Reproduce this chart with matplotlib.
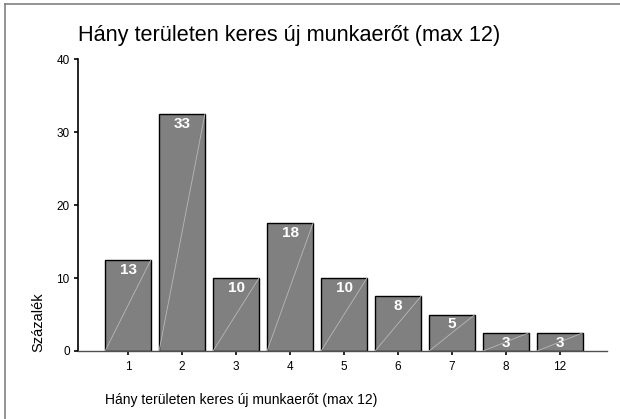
import matplotlib.pyplot as plt
from matplotlib.lines import Line2D

plt.rcParams['font.family'] = ['Liberation Sans', 'DejaVu Sans']

# data
categories = ["1", "2", "3", "4", "5", "6", "7", "8", "12"]
percent = [12.5, 32.5, 10.0, 17.5, 10.0, 7.5, 5.0, 2.5, 2.5]
labels = ["13", "33", "10", "18", "10", "8", "5", "3", "3"]
y_ticks = [0, 10, 20, 30, 40]

title = "Hány területen keres új munkaerőt (max 12)"
x_title = "Hány területen keres új munkaerőt (max 12)"
y_title = "Százalék"

fig = plt.figure(figsize=(6.2, 4.19), dpi=100)
ax = fig.add_axes([78 / 620, 0.1623, (607 - 78) / 620, 0.859 - 0.1623])

pos = list(range(len(categories)))
width = 0.85
ax.bar(pos, percent, width=width, color="#808080", edgecolor="black", linewidth=1.0, zorder=2)

# faint diagonal inside each bar
for x, h in zip(pos, percent):
    ax.plot([x - width / 2, x + width / 2], [0, h], color="#b8b8b8", lw=0.6, zorder=3)

for x, h, t in zip(pos, percent, labels):
    ax.annotate(t, (x, h), xytext=(0, -2), textcoords="offset points",
                ha="center", va="top", color="white", fontsize=11,
                fontweight="bold", zorder=4)

ax.set_xlim(-0.926, 8.87)
ax.set_ylim(0, 40)
ax.set_xticks(pos)
ax.set_xticklabels(categories, fontsize=8.5)
ax.set_yticks(y_ticks)
ax.set_yticklabels([str(v) for v in y_ticks], fontsize=8.5)
ax.tick_params(axis="both", length=3, width=1.2, color="black", pad=3)
ax.tick_params(axis="x", pad=4)

ax.spines["top"].set_visible(False)
ax.spines["right"].set_visible(False)
ax.spines["left"].set_linewidth(1.2)
ax.spines["bottom"].set_color("#505050")
ax.spines["bottom"].set_linewidth(1.0)

fig.text(78 / 620, 1 - 35 / 419, title, fontsize=15.6, ha="left", va="center")
fig.text(105 / 620, 1 - 400 / 419, x_title, fontsize=10, ha="left", va="center")
fig.text(38.5 / 620, 1 - 352 / 419, y_title, fontsize=10.5, rotation=90, ha="center", va="bottom")

# outer frame (top and left edges visible)
fig.add_artist(Line2D([5 / 620, 1.0], [1 - 4 / 419, 1 - 4 / 419], transform=fig.transFigure, color="#808080", lw=1.2))
fig.add_artist(Line2D([5 / 620, 5 / 620], [0, 1 - 4 / 419], transform=fig.transFigure, color="#808080", lw=1.2))

fig.savefig("out.png", dpi=100)
